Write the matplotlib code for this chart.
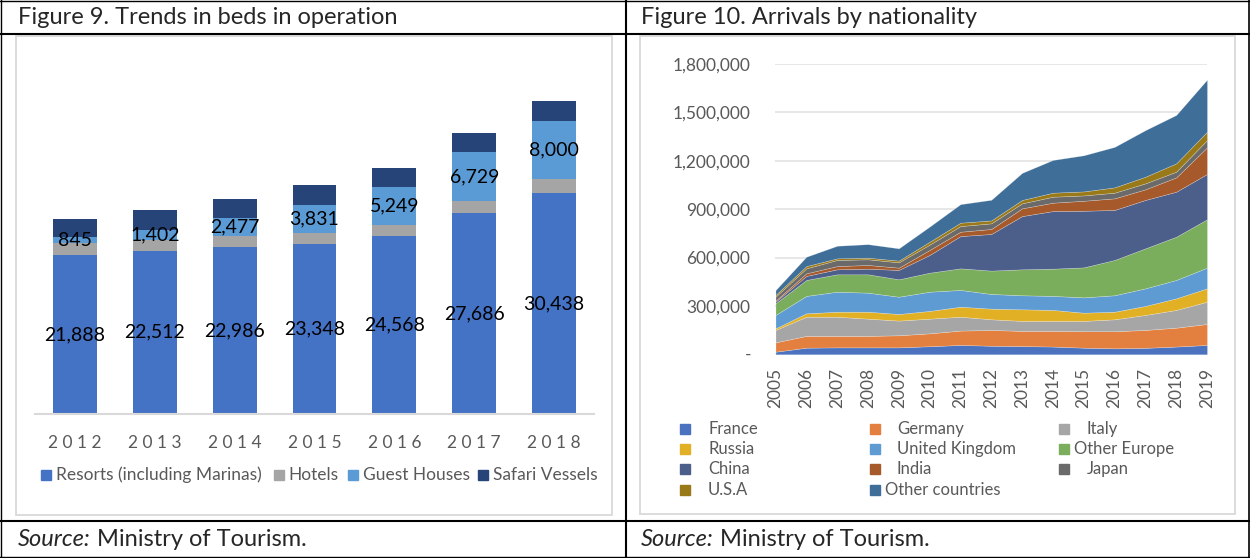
import matplotlib
matplotlib.use("Agg")
import matplotlib.pyplot as plt
from matplotlib.lines import Line2D
from matplotlib.patches import Rectangle
import numpy as np

plt.rcParams['font.family'] = ['Lato', 'DejaVu Sans']

# ---------------- data: Figure 9 ----------------
bed_years = ["2012", "2013", "2014", "2015", "2016", "2017", "2018"]
resorts = [21888, 22512, 22986, 23348, 24568, 27686, 30438]
hotels = [1600, 1400, 1500, 1580, 1500, 1650, 1930]
guest_houses = [845, 1402, 2477, 3831, 5249, 6729, 8000]
safari_vessels = [2480, 2750, 2600, 2800, 2600, 2700, 2750]
bed_series_names = ["Resorts (including Marinas)", "Hotels", "Guest Houses", "Safari Vessels"]

# ---------------- data: Figure 10 ----------------
arr_years = list(range(2005, 2020))
france = [16000, 41000, 43000, 43000, 43000, 50000, 58000, 53000, 51000, 48000, 41000, 37000, 40000, 48000, 58000]
germany = [58000, 73000, 71000, 71000, 75000, 80000, 89000, 98000, 94000, 97000, 102000, 106000, 111000, 117000, 130000]
italy = [77000, 119000, 119000, 107000, 91000, 91000, 86000, 66000, 62000, 62000, 64000, 74000, 93000, 110000, 138000]
russia = [10000, 21000, 31000, 43000, 41000, 48000, 62000, 66000, 72000, 68000, 51000, 47000, 56000, 72000, 83000]
united_kingdom = [83000, 108000, 124000, 118000, 107000, 119000, 104000, 91000, 87000, 87000, 95000, 102000, 109000, 114000, 128000]
other_europe = [72000, 99000, 108000, 114000, 108000, 118000, 134000, 145000, 161000, 169000, 186000, 219000, 248000, 268000, 300000]
china = [10000, 25000, 31000, 35000, 58000, 110000, 200000, 227000, 330000, 357000, 351000, 310000, 300000, 279000, 281000]
india = [7000, 16000, 20000, 23000, 14000, 31000, 27000, 31000, 48000, 52000, 62000, 72000, 66000, 89000, 165000]
japan = [24000, 31000, 38000, 35000, 33000, 33000, 35000, 35000, 31000, 37000, 33000, 35000, 37000, 35000, 45000]
usa = [11000, 14000, 10000, 10000, 11000, 18000, 21000, 18000, 21000, 25000, 25000, 33000, 41000, 52000, 52000]
other_countries = [30000, 58000, 78000, 84000, 76000, 94000, 115000, 128000, 168000, 203000, 224000, 251000, 289000, 300000, 323000]
nationalities = ["France", "Germany", "Italy", "Russia", "United Kingdom", "Other Europe",
                 "China", "India", "Japan", "U.S.A", "Other countries"]
y_ticks = [0, 300000, 600000, 900000, 1200000, 1500000, 1800000]

W, H = 1250, 558
fig = plt.figure(figsize=(W / 100, H / 100), dpi=100)
fig.patch.set_facecolor("white")

def fx(x):
    return x / W

def fy(y):
    return 1 - y / H

def hline(y, x0, x1, lw=1.2, color="black"):
    fig.add_artist(Line2D([fx(x0), fx(x1)], [fy(y), fy(y)], color=color, lw=lw, transform=fig.transFigure))

def vline(x, y0, y1, lw=1.2, color="black"):
    fig.add_artist(Line2D([fx(x), fx(x)], [fy(y0), fy(y1)], color=color, lw=lw, transform=fig.transFigure))

def frame(x0, y0, x1, y1):
    fig.add_artist(Rectangle((fx(x0), fy(y1)), fx(x1) - fx(x0), fy(y0) - fy(y1),
                             transform=fig.transFigure, fill=False, ec="#D9D9D9", lw=1.3))

# table borders
hline(0.7, 0, W, lw=1.0)
hline(33.5, 0, W, lw=1.5)
hline(520.5, 0, W, lw=1.5)
hline(557.3, 0, W, lw=1.0)
vline(0.8, 0, H, lw=1.0)
vline(626, 0, H, lw=1.5)
vline(1248.8, 0, H, lw=1.2)

# chart frames
frame(16, 36, 612, 515)
frame(640, 36, 1235, 514)

GRAY = "#595959"
TXT = "#262626"
title_kw = dict(fontsize=17, color=TXT, va="center", ha="left", fontweight="normal")
fig.text(fx(18), fy(17), "Figure 9. Trends in beds in operation", **title_kw)
fig.text(fx(641), fy(17), "Figure 10. Arrivals by nationality", **title_kw)

for x0 in (18, 641):
    t = fig.text(fx(x0), fy(539), "Source:", fontsize=17, style="italic", color=TXT, va="center", ha="left")
    fig.canvas.draw()
    bb = t.get_window_extent()
    fig.text(fx(bb.x1 + 6), fy(539), "Ministry of Tourism.", fontsize=17, color=TXT, va="center", ha="left")

# ---------------- Figure 9 ----------------
axL = fig.add_axes([fx(35), fy(414), (594 - 35) / W, 363 / H])
x = np.arange(len(bed_years))
bw = 0.55
bar_colors = ["#4472C4", "#A5A5A5", "#5B9BD5", "#264478"]
bottom = np.zeros(len(bed_years))
containers = []
for vals, col in zip([resorts, hotels, guest_houses, safari_vessels], bar_colors):
    c = axL.bar(x, vals, bw, bottom=bottom, color=col, edgecolor="none")
    containers.append(c)
    bottom += np.array(vals)
axL.bar_label(containers[0], labels=[f"{v:,}" for v in resorts], label_type="center", fontsize=14, color="black")
axL.bar_label(containers[2], labels=[f"{v:,}" for v in guest_houses], label_type="center", fontsize=14, color="black")
axL.set_xlim(-0.5, len(bed_years) - 0.5)
axL.set_ylim(0, 50000)
for s in ["top", "right", "left"]:
    axL.spines[s].set_visible(False)
axL.spines["bottom"].set_color("#D9D9D9")
axL.spines["bottom"].set_linewidth(1.5)
axL.set_yticks([])
axL.set_xticks(x)
axL.set_xticklabels([" ".join(list(y)) for y in bed_years], fontsize=12.5, color=GRAY)
axL.tick_params(axis="x", length=0, pad=15)
axL.patch.set_alpha(0)

leg_items = [(41, 56), (274, 288.5), (348, 363), (478, 493)]
for (mx, tx), name, col in zip(leg_items, bed_series_names, bar_colors):
    fig.add_artist(Rectangle((fx(mx), fy(480)), 10 / W, 10 / H, transform=fig.transFigure, color=col))
    fig.text(fx(tx), fy(475), name, fontsize=12.5, color=GRAY, va="center", ha="left")

# ---------------- Figure 10 ----------------
axR = fig.add_axes([fx(775.5), fy(354.3), (1207 - 775.5) / W, (354.3 - 64) / H])
area_colors = ["#4A72BE", "#E3803F", "#A6A6A6", "#E2B024", "#5E9BD3", "#7BAE5C",
               "#4C5E8A", "#A65A2C", "#6A6A6A", "#9A7A18", "#3F6E98"]
series = [france, germany, italy, russia, united_kingdom, other_europe,
          china, india, japan, usa, other_countries]
axR.stackplot(arr_years, *series, colors=area_colors, lw=0.4, edgecolor=(1, 1, 1, 0.35))
axR.set_xlim(arr_years[0], arr_years[-1])
axR.set_ylim(0, y_ticks[-1])
axR.set_yticks(y_ticks)
axR.set_yticklabels([""] + [f"{v:,}" for v in y_ticks[1:]], fontsize=12.5, color=GRAY)
axR.text(-0.055, 0, "-", transform=axR.get_yaxis_transform(), ha="right", va="center", fontsize=12.5, color=GRAY)
axR.grid(axis="y", color="#E3E3E3", lw=1.2)
axR.set_axisbelow(True)
for s in axR.spines.values():
    s.set_visible(False)
axR.set_xticks(arr_years)
axR.set_xticklabels([str(y) for y in arr_years], rotation=90, fontsize=12.5, color=GRAY)
axR.tick_params(axis="y", length=0, pad=18)
axR.tick_params(axis="x", length=0, pad=10)

col_marker = [685, 875, 1064]
row_y = [428.7, 449, 469.3, 490]
legend_text_x = [708, 897, 1087, 708, 897, 1074, 708, 897, 1087, 708, 885]
for i, (name, col) in enumerate(zip(nationalities, area_colors)):
    r, c = divmod(i, 3)
    fig.add_artist(Rectangle((fx(col_marker[c] - 5), fy(row_y[r] + 5)), 10 / W, 10 / H,
                             transform=fig.transFigure, color=col))
    fig.text(fx(legend_text_x[i]), fy(row_y[r]), name, fontsize=12, color=GRAY, va="center", ha="left")

fig.savefig("out.png", dpi=100, facecolor="white")
